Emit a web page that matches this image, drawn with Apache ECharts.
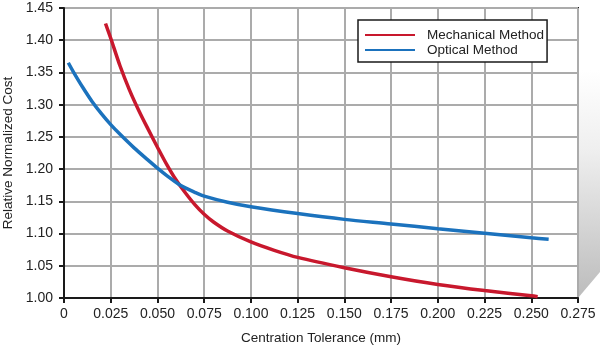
<!DOCTYPE html>
<html>
<head>
<meta charset="utf-8">
<script src="https://cdn.jsdelivr.net/npm/echarts@6/dist/echarts.min.js"></script>
<style>
  html, body { margin: 0; padding: 0; background: #fff; }
  #chart { width: 600px; height: 348px; }
</style>
</head>
<body>
<div id="chart"></div>
<script>
// Relative normalized cost vs. centration tolerance for two centering methods
const seriesNames = ['Mechanical Method', 'Optical Method'];

const mechanicalX = [0.0222, 0.025, 0.03, 0.035, 0.04, 0.045, 0.05, 0.055, 0.06, 0.065, 0.07, 0.075, 0.08, 0.0875, 0.1, 0.1125, 0.125, 0.15, 0.175, 0.2, 0.225, 0.25, 0.2534];
const mechanicalY = [1.426, 1.403, 1.360, 1.323, 1.291, 1.262, 1.234, 1.207, 1.183, 1.163, 1.145, 1.130, 1.118, 1.104, 1.087, 1.074, 1.063, 1.047, 1.033, 1.021, 1.0115, 1.0035, 1.002];

const opticalX = [0.0023, 0.005, 0.01, 0.015, 0.02, 0.025, 0.03, 0.0375, 0.045, 0.05, 0.055, 0.0625, 0.07, 0.075, 0.0875, 0.1, 0.125, 0.15, 0.175, 0.2, 0.225, 0.25, 0.2593];
const opticalY = [1.365, 1.351, 1.327, 1.305, 1.286, 1.269, 1.254, 1.233, 1.214, 1.2015, 1.190, 1.1745, 1.164, 1.158, 1.1485, 1.1415, 1.131, 1.122, 1.115, 1.1075, 1.1005, 1.0935, 1.091];

const xTicks = [0, 0.025, 0.05, 0.075, 0.1, 0.125, 0.15, 0.175, 0.2, 0.225, 0.25, 0.275];
const yTicks = [1.00, 1.05, 1.10, 1.15, 1.20, 1.25, 1.30, 1.35, 1.40, 1.45];

const xTitle = 'Centration Tolerance (mm)';
const yTitle = 'Relative Normalized Cost';

const RED = '#c8182d';
const BLUE = '#1b72bd';
const FONT = 'Liberation Sans';

function pairs(xs, ys) { return xs.map((x, i) => [x, ys[i]]); }

const chart = echarts.init(document.getElementById('chart'));

chart.setOption({
  backgroundColor: '#fff',
  animation: false,
  textStyle: { fontFamily: FONT },
  graphic: [{
    // shaded side panel to the right of the plot frame
    type: 'polygon',
    z: -10,
    shape: { points: [[578, 70], [600, 70], [600, 272], [578, 298]] },
    style: {
      fill: new echarts.graphic.LinearGradient(0, 0, 0, 1, [
        { offset: 0, color: 'rgba(255,255,255,1)' },
        { offset: 0.35, color: '#efefef' },
        { offset: 1, color: '#bcbcbc' }
      ])
    }
  }],
  grid: {
    left: 64, right: 22, top: 8, bottom: 50,
    outerBoundsMode: 'none',
    containLabel: false,
    show: true, borderColor: '#1a1a1a', borderWidth: 2,
    backgroundColor: 'transparent'
  },
  legend: {
    left: 358, top: 20,
    orient: 'vertical',
    data: seriesNames,
    backgroundColor: '#fff',
    borderColor: '#1a1a1a', borderWidth: 1.5, borderRadius: 0,
    padding: [8, 3, 5, 7],
    itemGap: 1,
    itemWidth: 50, itemHeight: 2,
    icon: 'rect',
    textStyle: { fontFamily: FONT, fontSize: 13.5, color: '#222', padding: [0, 0, 0, 7] }
  },
  xAxis: {
    type: 'value',
    min: xTicks[0], max: xTicks[xTicks.length - 1], interval: 0.025,
    name: xTitle, nameLocation: 'middle', nameGap: 33,
    nameTextStyle: { fontFamily: FONT, fontSize: 13.5, color: '#222' },
    axisLine: { show: true, lineStyle: { color: '#1a1a1a', width: 2 } },
    axisTick: { show: true, length: 5, lineStyle: { color: '#1a1a1a', width: 2 } },
    axisLabel: {
      margin: 9, fontFamily: FONT, fontSize: 14, color: '#222',
      formatter: v => (v === 0 ? '0' : v.toFixed(3))
    },
    splitLine: { show: true, lineStyle: { color: '#ababab', width: 2 } }
  },
  yAxis: {
    type: 'value',
    min: yTicks[0], max: yTicks[yTicks.length - 1], interval: 0.05,
    name: yTitle, nameLocation: 'middle', nameGap: 46, nameRotate: 90,
    nameTextStyle: { fontFamily: FONT, fontSize: 13.5, color: '#222' },
    axisLine: { show: true, lineStyle: { color: '#1a1a1a', width: 2 } },
    axisTick: { show: true, length: 5, lineStyle: { color: '#1a1a1a', width: 2 } },
    axisLabel: {
      margin: 11, fontFamily: FONT, fontSize: 14, color: '#222',
      formatter: v => v.toFixed(2)
    },
    splitLine: { show: true, lineStyle: { color: '#ababab', width: 2 } }
  },
  series: [
    {
      name: seriesNames[0], type: 'line', smooth: 0.3, showSymbol: false,
      color: RED, lineStyle: { color: RED, width: 3.5 },
      data: pairs(mechanicalX, mechanicalY), z: 3
    },
    {
      name: seriesNames[1], type: 'line', smooth: 0.3, showSymbol: false,
      color: BLUE, lineStyle: { color: BLUE, width: 3.5 },
      data: pairs(opticalX, opticalY), z: 4
    }
  ]
});
</script>
</body>
</html>
